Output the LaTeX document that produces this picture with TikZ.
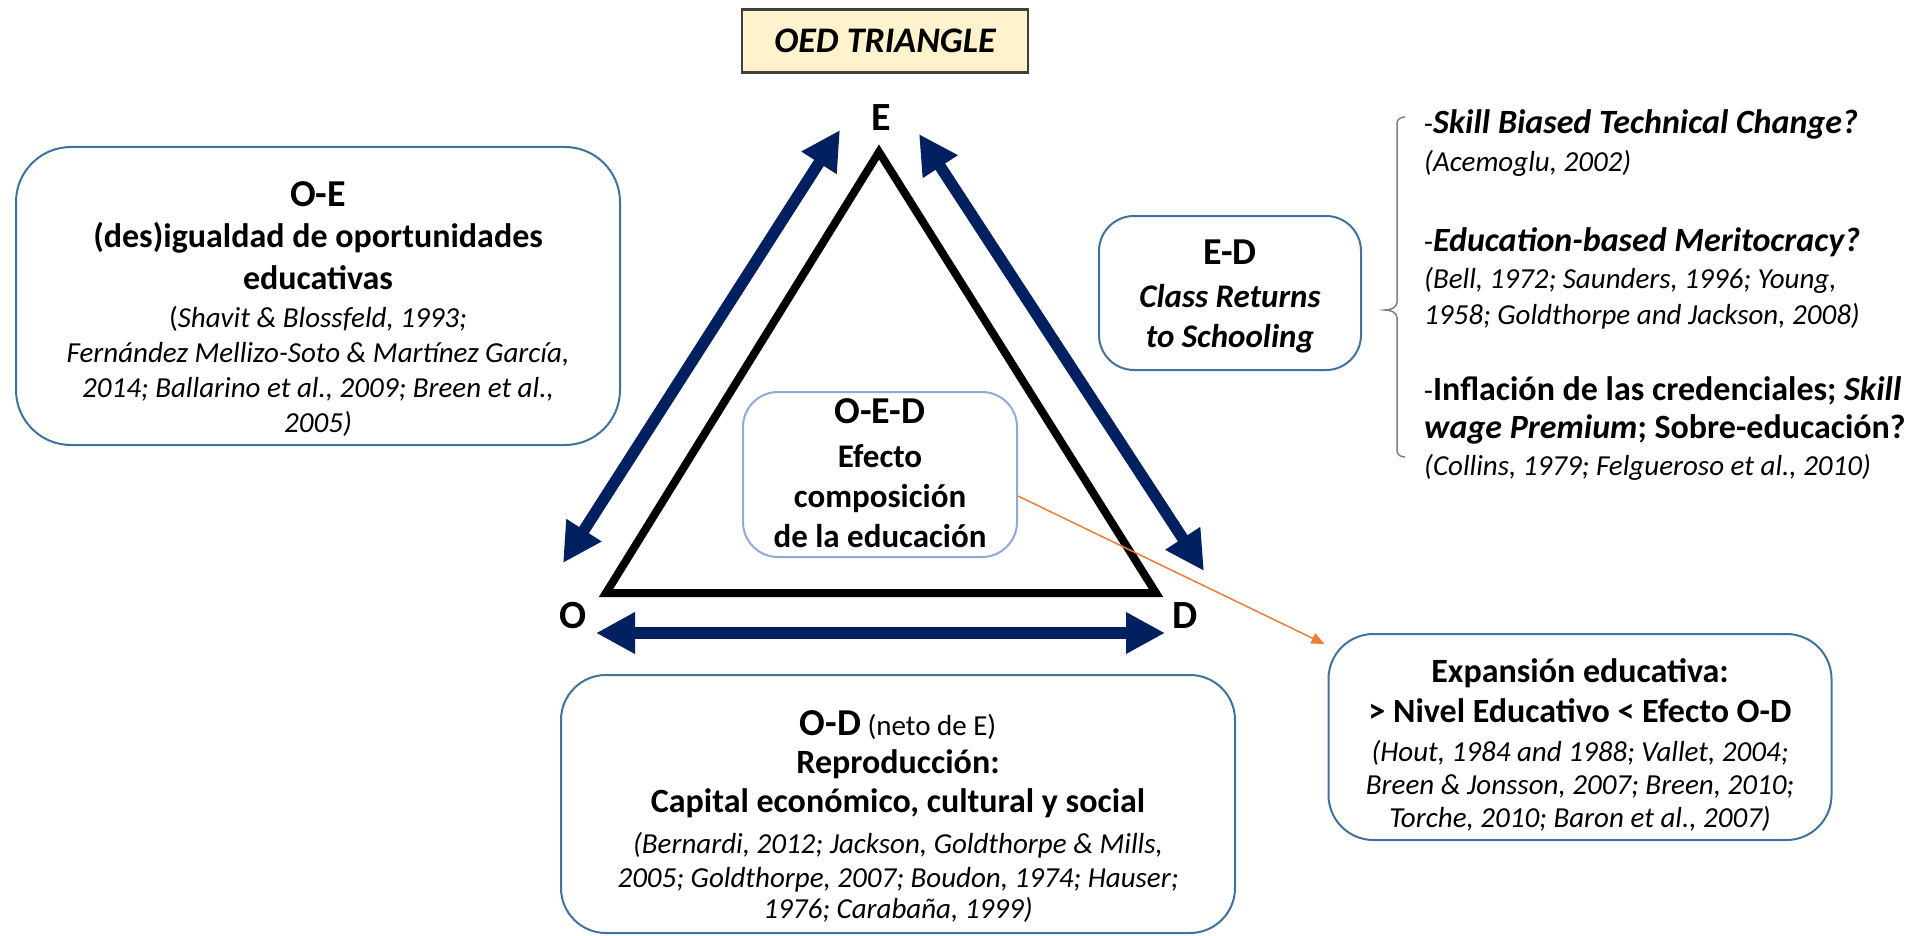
\documentclass[tikz,border=0pt]{standalone}
\usepackage{fontspec}
\setmainfont{Carlito}
\usetikzlibrary{arrows.meta}
\definecolor{navy}{HTML}{002060}
\definecolor{boxblue}{HTML}{41719C}
\definecolor{lightblue}{HTML}{8EA9DB}
\definecolor{cream}{HTML}{FFF2CC}
\definecolor{accOrange}{HTML}{ED7D31}
\definecolor{titleborder}{HTML}{404040}
\newcommand\fH{\fontsize{38}{40}\selectfont\bfseries}
\newcommand\fB{\fontsize{34}{40}\selectfont\bfseries}
\newcommand\fI{\fontsize{29}{35}\selectfont\itshape}
\newcommand\fBI{\fontsize{34}{40}\selectfont\bfseries\itshape}
\newcommand\fR{\fontsize{29}{35}\selectfont\upshape\mdseries}
\begin{document}
\begin{tikzpicture}[x=1pt,y=-1pt,
  rbox/.style={draw=boxblue, line width=2pt, rounded corners=#1, inner sep=0pt},
  rbox/.default=40,
  txt/.style={align=center, inner sep=0pt, anchor=north},
  vlabel/.style={inner sep=0pt, font=\fontsize{40}{44}\selectfont\bfseries},
  navyarrow/.style={draw=navy, line width=11.5pt, >={Triangle[length=39pt,width=39pt]}, <->},
  tri/.style={draw=black, line width=8pt, miter limit=10}
]
\useasboundingbox (0,0) rectangle (1913,936);

% title
\node[draw=titleborder, line width=2.5pt, fill=cream, minimum width=286, minimum height=63, inner sep=0pt,
      font=\fontsize{36}{40}\selectfont\bfseries\itshape] (title) at (885,41) {OED TRIANGLE};

% triangle
\coordinate (tE) at (879,152);
\coordinate (tO) at (606,593);
\coordinate (tD) at (1156,593);
\draw[tri] (tE) -- (tD) -- (tO) -- cycle;

% vertex labels
\node[vlabel] (lE) at (881,118) {E};
\node[vlabel] (lO) at (573,616) {O};
\node[vlabel] (lD) at (1185,616) {D};

% navy double arrows
\coordinate (aOE1) at (563,563);
\coordinate (aOE2) at (840,130);
\coordinate (aED1) at (919,134);
\coordinate (aED2) at (1204,571);
\coordinate (aOD1) at (596,633);
\coordinate (aOD2) at (1165,633);
\draw[navyarrow] (aOE1) -- (aOE2);
\draw[navyarrow] (aED1) -- (aED2);
\draw[navyarrow] (aOD1) -- (aOD2);

% O-E box
\node[rbox=55, minimum width=604, minimum height=298] (oe) at (318,296) {};
\node[txt, font=\fontsize{29}{35}\selectfont] (oet) at (318,181) {%
{\fH O-E}\\[6pt]
{\fB (des)igualdad de oportunidades}\\[7pt]
{\fB educativas}\\[3pt]
{\fR(}{\fI Shavit \& Blossfeld, 1993;}\\
{\fI Fernández Mellizo-Soto \& Martínez García,}\\
{\fI 2014; Ballarino et al., 2009; Breen et al.,}\\
{\fI 2005)}};

% E-D box
\node[rbox=35, minimum width=262, minimum height=154] (ed) at (1230,293) {};
\node[txt, font=\fontsize{33}{40}\selectfont] (edt) at (1230,240) {%
{\fH E-D}\\[3pt]
{\fontsize{33}{40}\selectfont\bfseries\itshape Class Returns}\\
{\fontsize{33}{40}\selectfont\bfseries\itshape to Schooling}};

% O-E-D box
\node[rbox=35, draw=lightblue, minimum width=274, minimum height=165] (oed) at (880,474.5) {};
\node[txt, font=\fontsize{33}{40}\selectfont\bfseries] (oedt) at (880,398) {%
{\fH O-E-D}\\[4pt]
Efecto\\
composición\\
de la educación};

% O-D box
\node[rbox=45, minimum width=674, minimum height=258] (od) at (898,804) {};
\node[txt, font=\fontsize{29}{32}\selectfont] (odt) at (898,710) {%
{\fH O-D} {\fR (neto de E)}\\[6pt]
{\fB Reproducción:}\\[7pt]
{\fB Capital económico, cultural y social}\\[9pt]
{\fI (Bernardi, 2012; Jackson, Goldthorpe \& Mills,}\\[2pt]
{\fI 2005; Goldthorpe, 2007; Boudon, 1974; Hauser;}\\[-1pt]
{\fI 1976; Carabaña, 1999)}};

% Expansion box
\node[rbox=45, minimum width=503, minimum height=206] (exp) at (1580,737) {};
\node[txt, font=\fontsize{29}{33}\selectfont] (expt) at (1580,658) {%
{\fB Expansión educativa:}\\[7pt]
{\fB > Nivel Educativo < Efecto O-D}\\[6pt]
{\fI (Hout, 1984 and 1988; Vallet, 2004;}\\
{\fI Breen \& Jonsson, 2007; Breen, 2010;}\\
{\fI Torche, 2010; Baron et al., 2007)}};

% orange arrow
\draw[accOrange, line width=1.5pt, -{Triangle[length=13pt,width=11pt]}]
  ([yshift=-21.5pt]oed.east) -- ([xshift=-3pt,yshift=-11pt]exp.north west);

% brace
\coordinate (bTop) at (1405,117);
\coordinate (bTip) at (1385,310);
\coordinate (bBot) at (1405,457);
\draw[gray, line width=1.5pt] (bTop) to[out=180,in=90] (1397,123) -- (1397,302)
  to[out=-90,in=0] (bTip) to[out=0,in=90] (1397,318) -- (1397,451) to[out=-90,in=180] (bBot);

% right text block
\node[inner sep=0pt, anchor=north west, align=left, font=\fontsize{29}{37}\selectfont] (rt) at (1424,109) {%
{\fR -}{\fBI Skill Biased Technical Change?}\\[1pt]
{\fI (Acemoglu, 2002)}\\[43pt]
{\fR -}{\fBI Education-based Meritocracy?}\\
{\fI (Bell, 1972; Saunders, 1996; Young,}\\[-1pt]
{\fI 1958; Goldthorpe and Jackson, 2008)}\\[39pt]
{\fR -}{\fB Inflación de las credenciales; \itshape Skill}\\[1pt]
{\fBI wage Premium}{\fB ; Sobre-educación?}\\
{\fI (Collins, 1979; Felgueroso et al., 2010)}};
\end{tikzpicture}
\end{document}
